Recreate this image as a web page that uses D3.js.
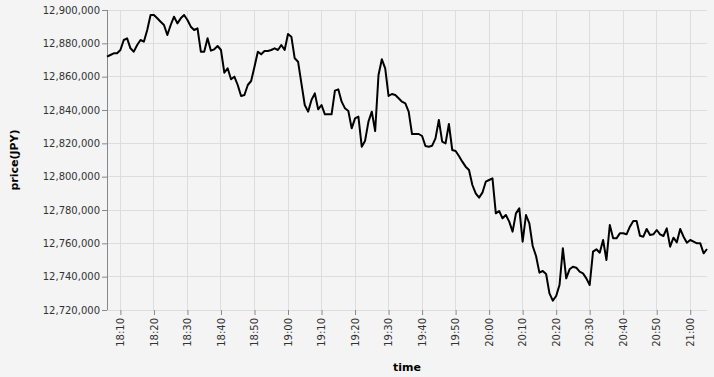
<!DOCTYPE html>
<html><head><meta charset="utf-8">
<script src="https://cdn.jsdelivr.net/npm/d3@7"></script>
<style>
html,body{margin:0;padding:0;background:#f4f4f4;}
svg{display:block;}
</style></head>
<body>
<svg id="chart" width="714" height="377"></svg>
<script>
// start of the minute series, one value per minute
const startTime = "18:06";
const prices = [
12872000,12873000,12874000,12874000,12876000,12882000,12883000,12877000,12875000,12879000,
12882000,12881000,12888000,12897000,12897000,12895000,12893000,12891000,12885000,12891000,
12896000,12892000,12895000,12897000,12894000,12890000,12888000,12889000,12875000,12875000,
12883000,12875600,12876400,12878400,12876000,12862400,12865000,12858400,12860000,12855000,
12848400,12849000,12855000,12857400,12866000,12875000,12873400,12875400,12875400,12876000,
12877000,12876000,12879000,12876000,12885600,12884000,12871000,12869000,12856000,12843000,
12839000,12846000,12850000,12840400,12843000,12837400,12837400,12837400,12851600,12852400,
12845000,12841000,12839400,12829000,12835000,12836000,12818000,12821600,12833000,12839000,
12827400,12861000,12870400,12865000,12848400,12849600,12849000,12847000,12845000,12844000,
12839000,12825600,12825600,12825600,12824400,12818400,12818000,12818600,12823000,12834000,
12821000,12820000,12831600,12816000,12815400,12812400,12809000,12806000,12804000,12795000,
12790000,12787400,12790400,12797000,12798000,12799000,12778000,12779400,12775000,12777000,
12773000,12767000,12778000,12781000,12761000,12777000,12772000,12758400,12752400,12742400,
12743400,12741600,12730000,12725600,12728400,12735000,12757000,12739000,12744400,12746000,
12745400,12743000,12742000,12739000,12735000,12755000,12756400,12754400,12762000,12750000,
12771000,12763000,12763000,12766000,12766000,12765400,12770000,12773400,12773400,12764600,
12764000,12768600,12765000,12765400,12768000,12765400,12764400,12769000,12758000,12763400,
12760600,12768600,12764000,12760400,12762000,12761000,12760000,12760000,12754000,12756600
];
const xTickLabels = ["18:10","18:20","18:30","18:40","18:50","19:00","19:10","19:20","19:30","19:40","19:50","20:00","20:10","20:20","20:30","20:40","20:50","21:00"];
const yTicks = [12720000,12740000,12760000,12780000,12800000,12820000,12840000,12860000,12880000,12900000];
const yDomain = [12720000, 12900000];
const xTitle = "time";
const yTitle = "price(JPY)";

const parse = d3.timeParse("%H:%M");
const t0 = parse(startTime);
const data = prices.map((p, i) => ({t: d3.timeMinute.offset(t0, i), p}));

const margin = {left: 107, top: 10, width: 600, height: 300};
const svg = d3.select("#chart");
svg.append("rect").attr("width", 714).attr("height", 377).attr("fill", "#f4f4f4");
const g = svg.append("g").attr("transform", `translate(${margin.left},${margin.top})`);

const x = d3.scaleTime().domain(d3.extent(data, d => d.t)).range([0, margin.width]);
const y = d3.scaleLinear().domain(yDomain).range([margin.height, 0]);
const xTickDates = xTickLabels.map(parse);

// grid
g.append("g").selectAll("line").data(yTicks).join("line")
  .attr("x1", 0).attr("x2", margin.width)
  .attr("y1", d => y(d)).attr("y2", d => y(d))
  .attr("stroke", "#dddddd").attr("stroke-width", 1).attr("shape-rendering", "crispEdges");
g.append("g").selectAll("line").data(xTickDates).join("line")
  .attr("x1", d => x(d)).attr("x2", d => x(d))
  .attr("y1", 0).attr("y2", margin.height)
  .attr("stroke", "#dddddd").attr("stroke-width", 1).attr("shape-rendering", "crispEdges");

// x axis
const xAxis = g.append("g").attr("transform", `translate(0,${margin.height})`)
  .call(d3.axisBottom(x).tickValues(xTickDates).tickFormat(d3.timeFormat("%H:%M")).tickSize(5).tickPadding(2));
xAxis.select(".domain").remove();
xAxis.selectAll(".tick line").attr("stroke", "#888");
xAxis.selectAll(".tick text")
  .attr("font-family", "DejaVu Sans, sans-serif").attr("font-size", 10).attr("fill", "#333")
  .attr("transform", "rotate(-90)")
  .attr("text-anchor", "end").attr("x", -8).attr("y", 0).attr("dy", "0.32em");

// y axis
const yAxis = g.append("g")
  .call(d3.axisLeft(y).tickValues(yTicks).tickFormat(d3.format(",")).tickSize(5).tickPadding(2));
yAxis.select(".domain").attr("stroke", "#888").attr("d", `M0.5,0V${margin.height}`);
yAxis.selectAll(".tick line").attr("stroke", "#888");
yAxis.selectAll(".tick text")
  .attr("font-family", "DejaVu Sans, sans-serif").attr("font-size", 10).attr("fill", "#333");

// line
const line = d3.line().x(d => x(d.t)).y(d => y(d.p));
g.append("path").datum(data).attr("d", line)
  .attr("fill", "none").attr("stroke", "#000").attr("stroke-width", 2).attr("stroke-linejoin", "round");

// titles
svg.append("text").attr("x", margin.left + margin.width / 2).attr("y", 371)
  .attr("text-anchor", "middle").attr("font-family", "DejaVu Sans, sans-serif")
  .attr("font-size", 11).attr("font-weight", "bold").attr("fill", "#000").text(xTitle);
svg.append("text").attr("transform", `translate(18,${margin.top + margin.height / 2}) rotate(-90)`)
  .attr("text-anchor", "middle").attr("font-family", "DejaVu Sans, sans-serif")
  .attr("font-size", 11).attr("font-weight", "bold").attr("fill", "#000").text(yTitle);
</script>
</body></html>
